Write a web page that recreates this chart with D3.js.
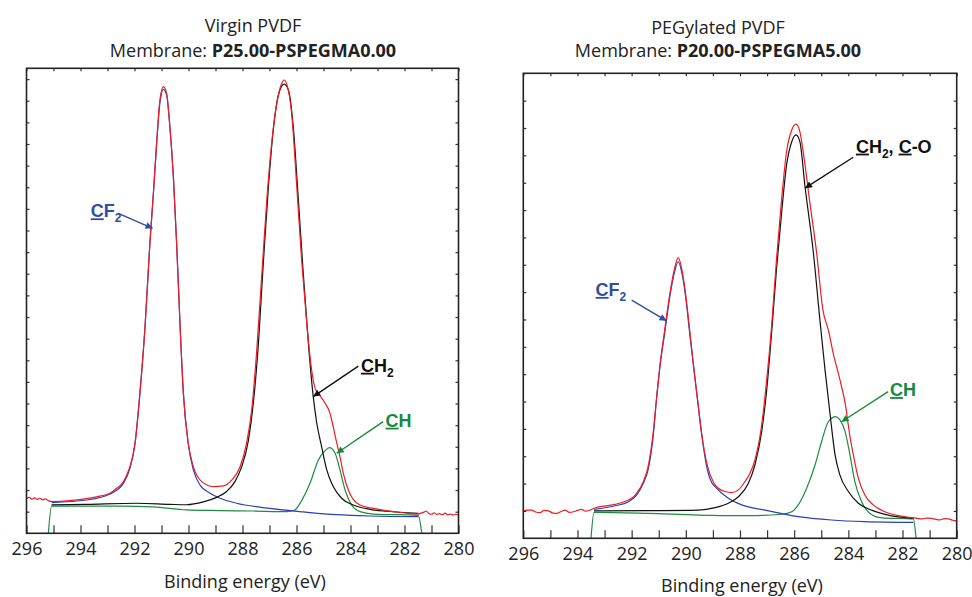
<!DOCTYPE html>
<html>
<head>
<meta charset="utf-8">
<script src="https://cdn.jsdelivr.net/npm/d3@7"></script>
<style>
  body { margin: 0; background: #fff; }
  svg { display: block; font-family: "Open Sans", sans-serif; }
  .tick text { font-family: "Open Sans", sans-serif; font-size: 18px; fill: #222; }
  .label { font-family: "Liberation Sans", Arial, sans-serif; font-weight: bold; font-size: 18px; }
</style>
</head>
<body>
<svg id="chart" width="972" height="597"></svg>
<script>
// [binding energy (eV), intensity (a.u.)]

// Virgin PVDF
const virginRaw = [
  [296.00,1.60],[295.90,1.66],[295.80,1.58],[295.70,1.64],[295.60,1.57],[295.50,1.62],[295.40,1.55],
  [295.30,1.59],[295.20,1.51],[295.07,1.47],[294.39,1.51],[293.77,1.60],[293.28,1.72],[292.91,1.85],
  [292.66,2.08],[292.41,2.39],[292.29,2.70],[292.17,3.08],[291.98,4.16],[291.80,6.47],[291.61,9.55],
  [291.43,13.41],[291.30,15.72],[291.18,18.03],[291.06,20.03],[290.93,20.65],[290.81,20.34],[290.69,18.80],
  [290.56,16.49],[290.44,13.41],[290.31,9.55],[290.19,6.47],[290.01,4.16],[289.82,3.08],[289.51,2.39],
  [289.08,2.16],[288.71,2.19],[288.40,2.46],[288.09,3.08],[287.85,4.16],[287.66,5.70],[287.48,8.32],
  [287.29,11.87],[287.10,15.41],[286.92,18.03],[286.73,19.88],[286.55,20.80],[286.46,20.96],[286.36,20.77],
  [286.18,19.42],[285.99,16.03],[285.81,12.64],[285.62,9.71],[285.44,7.55],[285.31,6.70],[285.19,6.47],
  [284.94,6.01],[284.76,5.56],[284.64,4.93],[284.51,4.18],[284.39,3.54],[284.27,2.79],[284.08,2.00],
  [283.90,1.57],[283.65,1.31],[283.15,1.15],[282.66,1.05],[282.04,0.95],[281.49,0.89],[281.40,0.93],
  [281.30,0.97],[281.20,1.03],[281.10,0.92],[281.00,0.88],[280.90,0.95],[280.80,0.87],[280.70,0.91],
  [280.60,0.86],[280.50,0.93],[280.40,0.85],[280.30,0.89],[280.20,0.84],[280.10,0.88],[280.00,0.83]
];
const virginCF2 = [
  [295.07,1.42],[293.77,1.54],[292.91,1.82],[292.41,2.31],[292.17,3.00],[291.98,4.16],[291.80,6.47],
  [291.61,9.55],[291.43,13.41],[291.30,15.72],[291.18,18.03],[291.06,19.88],[290.93,20.53],[290.81,20.26],
  [290.69,18.80],[290.56,16.49],[290.44,13.41],[290.31,9.55],[290.19,6.47],[290.01,4.16],[289.82,2.93],
  [289.57,2.23],[289.20,1.85],[288.83,1.62],[288.22,1.39],[286.98,1.15],[285.75,0.99],[284.51,0.86],
  [283.28,0.80],[281.49,0.77]
];
const virginCH2 = [
  [295.07,1.31],[293.77,1.34],[291.92,1.39],[290.69,1.34],[290.07,1.32],[289.45,1.45],[288.96,1.66],
  [288.59,1.93],[288.28,2.39],[288.03,3.08],[287.78,4.31],[287.60,6.01],[287.41,8.78],[287.23,12.48],
  [287.04,16.03],[286.86,18.65],[286.67,20.26],[286.46,20.77],[286.30,20.50],[286.12,18.80],[285.93,15.41],
  [285.75,12.02],[285.56,8.78],[285.38,6.32],[285.25,5.10],[285.07,4.01],[284.88,2.93],[284.64,2.16],
  [284.33,1.62],[283.90,1.31],[283.28,1.11],[282.66,1.02],[281.49,0.92]
];
const virginCH = [
  [295.19,0],[295.07,1.26],[292.54,1.26],[291.30,1.22],[290.07,1.08],[288.83,1.05],[287.60,1.03],
  [286.36,1.00],[286.06,1.08],[285.81,1.51],[285.50,2.31],[285.19,3.39],[284.94,3.82],[284.78,3.96],
  [284.57,3.70],[284.39,2.93],[284.20,2.00],[283.96,1.31],[283.65,1.00],[283.15,0.89],[281.49,0.83],
  [281.36,0]
];

// PEGylated PVDF
const pegRaw = [
  [296.00,1.00],[295.85,1.03],[295.69,1.03],[295.55,0.96],[295.38,0.94],[295.23,1.02],[295.08,1.00],
  [294.92,0.93],[294.77,0.91],[294.60,0.98],[294.46,1.03],[294.30,0.95],[294.15,0.97],[294.00,1.02],
  [293.85,1.06],[293.70,0.99],[293.54,1.03],[293.39,1.10],[292.61,1.24],[292.12,1.40],[292.00,1.46],
  [291.82,1.64],[291.57,2.07],[291.38,2.68],[291.20,3.90],[291.08,5.12],[290.95,6.34],[290.79,7.55],
  [290.58,9.00],[290.42,9.85],[290.28,10.26],[290.15,9.85],[290.01,8.95],[289.85,7.55],[289.72,6.34],
  [289.56,5.00],[289.42,3.85],[289.19,2.60],[288.98,2.05],[288.80,1.83],[288.55,1.71],[288.31,1.67],
  [288.06,1.77],[287.82,2.07],[287.63,2.38],[287.45,2.86],[287.20,4.14],[287.02,5.73],[286.83,7.80],
  [286.65,10.24],[286.46,12.43],[286.28,14.14],[286.09,14.93],[285.93,15.14],[285.79,14.87],[285.66,14.08],
  [285.42,12.26],[285.17,10.43],[284.94,8.35],[284.74,7.62],[284.56,6.77],[284.31,5.79],[284.12,4.95],
  [283.94,3.72],[283.83,3.12],[283.63,2.19],[283.39,1.58],[283.08,1.22],[282.65,0.97],[282.16,0.83],
  [281.60,0.75],[281.45,0.73],[281.29,0.71],[281.10,0.74],[280.93,0.73],[280.80,0.70],[280.62,0.67],
  [280.45,0.72],[280.31,0.71],[280.15,0.66],[280.00,0.63]
];
const pegCF2 = [
  [293.39,1.06],[292.61,1.19],[292.12,1.34],[291.82,1.58],[291.57,2.01],[291.38,2.56],[291.20,3.78],
  [291.08,5.12],[290.95,6.34],[290.79,7.43],[290.58,8.90],[290.42,9.72],[290.28,10.11],[290.15,9.72],
  [290.01,8.85],[289.85,7.43],[289.72,6.34],[289.56,5.00],[289.42,3.85],[289.23,2.62],[289.05,2.05],
  [288.92,1.89],[288.43,1.46],[287.94,1.22],[287.08,1.03],[285.85,0.79],[284.62,0.67],[283.39,0.61],
  [281.60,0.58]
];
const pegCH2CO = [
  [293.39,1.00],[291.38,1.01],[289.54,1.03],[288.92,1.12],[288.43,1.28],[288.06,1.52],[287.69,2.01],
  [287.45,2.68],[287.20,3.90],[287.02,5.36],[286.83,7.55],[286.65,9.87],[286.46,11.94],[286.28,13.65],
  [286.09,14.50],[285.93,14.75],[285.79,14.50],[285.60,12.86],[285.29,10.43],[285.05,7.98],[284.86,6.15],
  [284.68,4.58],[284.49,3.05],[284.31,2.31],[284.00,1.71],[283.63,1.28],[283.14,1.03],[282.53,0.85],
  [281.60,0.73]
];
const pegCH = [
  [293.50,0],[293.39,0.95],[291.38,0.91],[289.54,0.85],[287.69,0.83],[286.46,0.88],[286.09,0.97],
  [285.85,1.22],[285.54,1.83],[285.23,2.68],[284.99,3.53],[284.74,4.26],[284.47,4.45],[284.31,4.33],
  [284.12,3.90],[283.94,3.05],[283.76,2.07],[283.51,1.34],[283.20,0.91],[282.77,0.75],[281.60,0.71],
  [281.50,0]
];

const energyTicks = [296, 295, 294, 293, 292, 291, 290, 289, 288, 287, 286, 285, 284, 283, 282, 281, 280];
const energyLabels = [296, 294, 292, 290, 288, 286, 284, 282, 280];
const virginYTicks = [1, 2, 3, 4, 5, 6, 7, 8, 9, 10, 11, 12, 13, 14, 15, 16, 17, 18, 19, 20, 21];
const pegYTicks = [1, 2, 3, 4, 5, 6, 7, 8, 9, 10, 11, 12, 13, 14, 15, 16];

const colors = {
  raw: "#ee1c24",
  cf2: "#2a3fb8",
  ch2: "#111111",
  ch: "#1c8c3e",
  cf2Label: "#2f4e9f",
  chLabel: "#17893b",
};

// label parts: [text, kind]  kind "u" = underlined, "sub" = subscript
const virginLabels = [
  { parts: [["C", "u"], ["F"], ["2", "sub"]], color: colors.cf2Label, at: [293.62, 14.61], from: [292.60, 14.79], to: [291.33, 14.10] },
  { parts: [["C", "u"], ["H"], ["2", "sub"]], color: colors.ch2, at: [283.61, 7.47], from: [283.71, 7.73], to: [285.38, 6.32] },
  { parts: [["C", "u"], ["H"]], color: colors.chLabel, at: [282.70, 4.93], from: [282.79, 5.16], to: [284.51, 3.70] },
];
const pegLabels = [
  { parts: [["C", "u"], ["F"], ["2", "sub"]], color: colors.cf2Label, at: [293.33, 8.86], from: [292.00, 8.71], to: [290.71, 7.95] },
  { parts: [["C", "u"], ["H"], ["2", "sub"], [", "], ["C", "u"], ["-O"]], color: colors.ch2, at: [283.72, 14.10], from: [283.82, 13.93], to: [285.60, 12.80] },
  { parts: [["C", "u"], ["H"]], color: colors.chLabel, at: [282.46, 5.20], from: [282.53, 5.36], to: [284.25, 4.26] },
];

const panels = [
  {
    id: "virgin",
    title: "Virgin PVDF",
    membrane: "P25.00-PSPEGMA0.00",
    raw: virginRaw,
    fits: [[virginCH, colors.ch], [virginCF2, colors.cf2], [virginCH2, colors.ch2]],
    labels: virginLabels,
    yMax: 21.5,
    yTicks: virginYTicks,
    box: { left: 26.5, right: 458.5, top: 68.3, bottom: 533.3 },
    titleX: 253, titleY: [32.3, 56.7],
    axisTitle: [245, 588.3],
  },
  {
    id: "peg",
    title: "PEGylated PVDF",
    membrane: "P20.00-PSPEGMA5.00",
    raw: pegRaw,
    fits: [[pegCH, colors.ch], [pegCF2, colors.cf2], [pegCH2CO, colors.ch2]],
    labels: pegLabels,
    yMax: 17,
    yTicks: pegYTicks,
    box: { left: 523.3, right: 956.7, top: 73.3, bottom: 538.3 },
    titleX: 718, titleY: [34, 57.3],
    axisTitle: [742, 591.7],
  },
];

const svg = d3.select("#chart");
const defs = svg.append("defs");
const markerColors = [colors.cf2Label, colors.ch2, colors.chLabel];

markerColors.forEach((c, i) => {
  defs.append("marker")
    .attr("id", "arrow" + i)
    .attr("viewBox", "0 0 10 10")
    .attr("refX", 10)
    .attr("refY", 5)
    .attr("markerWidth", 10)
    .attr("markerHeight", 7)
    .attr("markerUnits", "userSpaceOnUse")
    .attr("orient", "auto")
    .append("path")
    .attr("d", "M0,0 L10,5 L0,10 z")
    .attr("fill", c);
});
const markerFor = (c) => "url(#arrow" + markerColors.indexOf(c) + ")";

const drawPanel = (p) => {
  const box = p.box;
  const x = d3.scaleLinear().domain([296, 280]).range([box.left, box.right]);
  const y = d3.scaleLinear().domain([0, p.yMax]).range([box.bottom, box.top]);
  const g = svg.append("g").attr("id", p.id + "Group");

  // ticks point inward on all four sides
  g.append("g")
    .attr("transform", `translate(0,${box.bottom})`)
    .call(
      d3.axisBottom(x)
        .tickValues(energyTicks)
        .tickSizeInner(-8)
        .tickSizeOuter(0)
        .tickPadding(9)
        .tickFormat((d) => (energyLabels.includes(d) ? d : ""))
    );
  g.append("g")
    .attr("transform", `translate(0,${box.top})`)
    .call(d3.axisTop(x).tickValues(energyTicks).tickSizeInner(-3).tickSizeOuter(0).tickFormat(""));
  g.append("g")
    .attr("transform", `translate(${box.left},0)`)
    .call(d3.axisLeft(y).tickValues(p.yTicks).tickSizeInner(-3).tickSizeOuter(0).tickFormat(""));
  g.append("g")
    .attr("transform", `translate(${box.right},0)`)
    .call(d3.axisRight(y).tickValues(p.yTicks).tickSizeInner(-3).tickSizeOuter(0).tickFormat(""));
  g.selectAll(".domain").remove();
  g.selectAll(".tick line").attr("stroke", "#333").attr("stroke-width", 1.2);

  const line = d3
    .line()
    .x((d) => x(d[0]))
    .y((d) => y(d[1]))
    .curve(d3.curveMonotoneX);

  p.fits.forEach(([data, c]) => {
    g.append("path")
      .attr("d", line(data))
      .attr("fill", "none")
      .attr("stroke", c)
      .attr("stroke-width", 1.2);
  });

  g.append("path")
    .attr("d", line(p.raw))
    .attr("fill", "none")
    .attr("stroke", colors.raw)
    .attr("stroke-width", 1.2);

  g.append("rect")
    .attr("x", box.left)
    .attr("y", box.top)
    .attr("width", box.right - box.left)
    .attr("height", box.bottom - box.top)
    .attr("fill", "none")
    .attr("stroke", "#222")
    .attr("stroke-width", 1.6);

  // peak labels with arrows
  p.labels.forEach((l) => {
    g.append("line")
      .attr("x1", x(l.from[0]))
      .attr("y1", y(l.from[1]))
      .attr("x2", x(l.to[0]))
      .attr("y2", y(l.to[1]))
      .attr("stroke", l.color)
      .attr("stroke-width", 1.4)
      .attr("marker-end", markerFor(l.color));

    const t = g.append("text")
      .attr("class", "label")
      .attr("x", x(l.at[0]))
      .attr("y", y(l.at[1]))
      .attr("fill", l.color);
    let shifted = false;
    l.parts.forEach(([txt, kind]) => {
      const s = t.append("tspan").text(txt);
      if (kind === "u") s.style("text-decoration", "underline");
      if (kind === "sub") {
        s.attr("dy", 5).attr("font-size", 12);
        shifted = true;
      } else if (shifted) {
        s.attr("dy", -5);
        shifted = false;
      }
    });
  });

  // titles
  svg.append("text")
    .attr("x", p.titleX)
    .attr("y", p.titleY[0])
    .attr("text-anchor", "middle")
    .attr("font-size", 18)
    .attr("fill", "#222")
    .text(p.title);
  const sub = svg.append("text")
    .attr("x", p.titleX)
    .attr("y", p.titleY[1])
    .attr("text-anchor", "middle")
    .attr("font-size", 18)
    .attr("fill", "#222");
  sub.append("tspan").text("Membrane: ");
  sub.append("tspan").attr("font-weight", 700).text(p.membrane);

  svg.append("text")
    .attr("x", p.axisTitle[0])
    .attr("y", p.axisTitle[1])
    .attr("text-anchor", "middle")
    .attr("font-size", 18)
    .attr("fill", "#222")
    .text("Binding energy (eV)");
};

panels.forEach(drawPanel);
</script>
</body>
</html>
